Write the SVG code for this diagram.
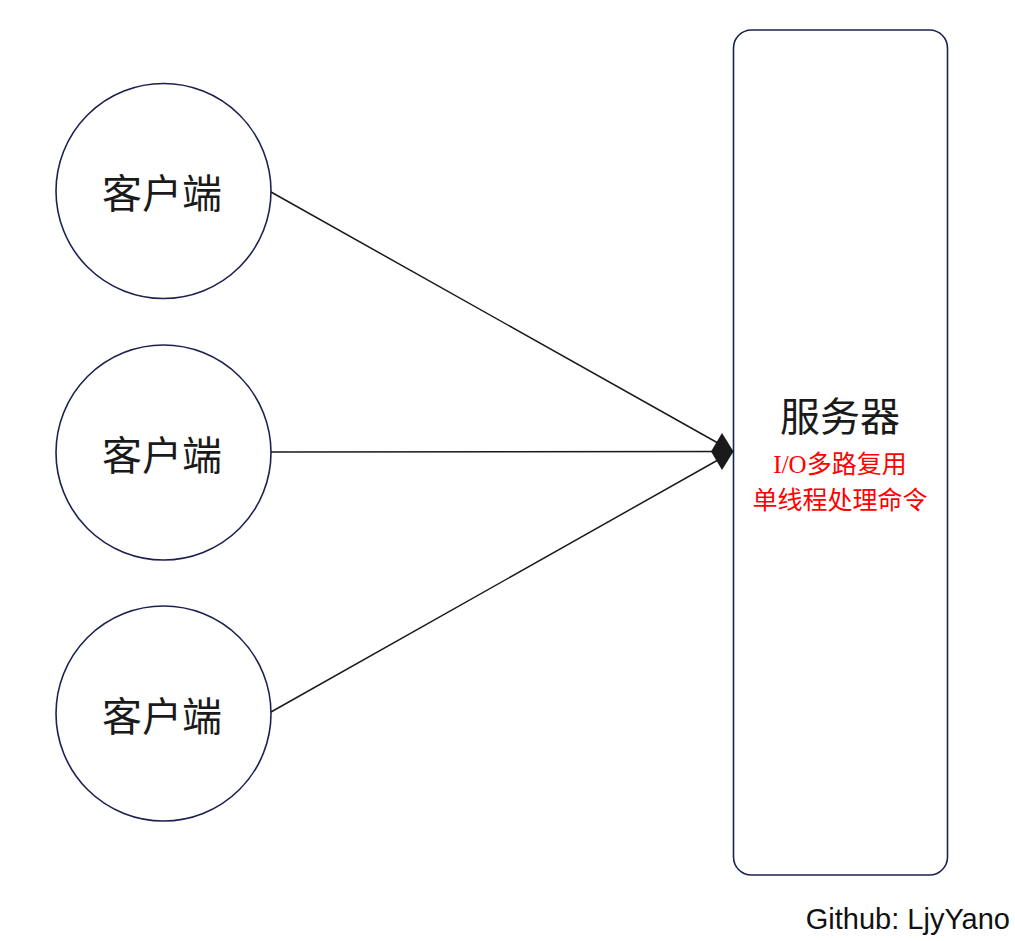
<svg xmlns="http://www.w3.org/2000/svg" width="1015" height="941" viewBox="0 0 1015 941">
<style>
.node{fill:#ffffff;stroke:#1c2150;stroke-width:1.6}
.lbl{font-family:"Noto Sans CJK SC","Noto Sans",sans-serif;font-size:40px;fill:#1a1a1a;text-anchor:middle;dominant-baseline:central}
.red{font-family:"Liberation Serif","Noto Sans CJK SC",serif;font-size:25px;fill:#ff0000;text-anchor:middle}
.edge{stroke:#1a1a1a;stroke-width:1.5;fill:none}
</style>
<rect width="1015" height="941" fill="#ffffff"/>
<g id="client1"><circle class="node" cx="163.5" cy="191" r="107.5"/><text class="lbl" x="162" y="191">客户端</text></g>
<g id="client2"><circle class="node" cx="163.5" cy="452.5" r="107.5"/><text class="lbl" x="162" y="452.5">客户端</text></g>
<g id="client3"><circle class="node" cx="163.5" cy="713.5" r="107.5"/><text class="lbl" x="162" y="713.5">客户端</text></g>
<g id="server">
<rect class="node" x="733.5" y="30" width="214" height="845" rx="18"/>
<text class="lbl" x="840" y="414">服务器</text>
<text class="red" x="840" y="473">I/O多路复用</text>
<text class="red" x="840" y="509">单线程处理命令</text>
</g>
<g id="connectors">
<line class="edge" x1="271" y1="192" x2="733" y2="451.5"/>
<line class="edge" x1="271" y1="452" x2="733" y2="451.5"/>
<line class="edge" x1="271" y1="712" x2="733" y2="451.5"/>
<polygon points="733.5,451.5 722,433 711,451.5 722,470" fill="#1a1a1a"/>
</g>
<text x="1010" y="929" font-family="Liberation Sans, Arial, sans-serif" font-size="29" fill="#111111" text-anchor="end">Github: LjyYano</text>
</svg>
